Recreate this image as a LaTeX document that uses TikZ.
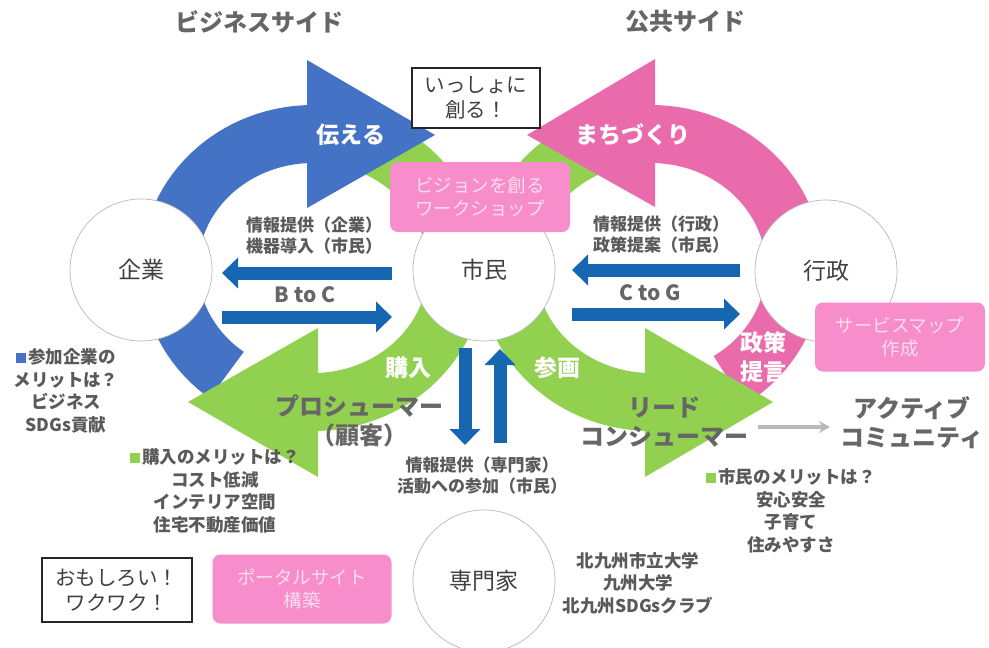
\documentclass[tikz,border=0pt]{standalone}
\usepackage{fontspec}
\setmainfont{Noto Sans CJK JP}
\usetikzlibrary{arrows.meta}
\definecolor{ringblue}{HTML}{4472C4}
\definecolor{ringpink}{HTML}{EA6BAC}
\definecolor{ringgreen}{HTML}{92D050}
\definecolor{boxpink}{HTML}{F78DCA}
\definecolor{boxtext}{HTML}{FCDDEE}
\definecolor{arrowblue}{HTML}{1766B2}
\definecolor{txtgrey}{HTML}{5A5A5A}
\definecolor{biggrey}{HTML}{666666}
\definecolor{txtdark}{HTML}{404040}
\definecolor{titlegrey}{HTML}{666666}
\begin{document}
\begin{tikzpicture}[x=1pt,y=-1pt,
  circ/.style={circle,draw=gray!55,line width=0.7pt,fill=white,minimum size=142pt,inner sep=0pt,text=txtdark,font=\fontsize{23}{27}\selectfont},
  lbl/.style={align=center,text=txtgrey,font=\bfseries\fontsize{17}{21}\selectfont},
  note/.style={align=center,text=txtgrey,font=\bfseries\fontsize{17.5}{22.5}\selectfont},
  wlbl/.style={align=center,text=white,font=\bfseries\fontsize{23}{29}\selectfont},
  bigtxt/.style={align=center,text=biggrey,font=\bfseries\fontsize{24}{29}\selectfont},
  ctxt/.style={align=center,text=biggrey,font=\bfseries\fontsize{21}{25}\selectfont},
  ttl/.style={text=titlegrey,font=\bfseries\fontsize{24}{28}\selectfont},
  pinkbox/.style={rectangle,rounded corners=8pt,fill=boxpink,text=boxtext,align=center,inner sep=0pt,font=\fontsize{18.5}{23}\selectfont},
  blackbox/.style={rectangle,draw=black!85,line width=2pt,fill=white,align=center,inner sep=0pt,text=txtdark,font=\fontsize{20.5}{25}\selectfont},
  bar/.style={draw=arrowblue,line width=13pt,-{Triangle[length=16pt,width=30pt]}},
  greyarrow/.style={draw=gray!55,line width=3.5pt,-{Stealth[length=11pt,width=12pt]}}
]
\fill[white] (0,0) rectangle (989,648);
\useasboundingbox (0,0) rectangle (989,648);

% ---- ring bodies ----
% left ring: centre (313,268)
\fill[ringgreen] plot[domain=-93:70,samples=90] ({313+172*cos(\x)},{268-163*sin(\x)})
  -- plot[domain=70:-93,samples=90] ({313+115*cos(\x)},{268-105*sin(\x)}) -- cycle;
\fill[ringblue] plot[domain=85:233,samples=90] ({313+172*cos(\x)},{268-163*sin(\x)})
  -- plot[domain=233:85,samples=90] ({313+115*cos(\x)},{268-105*sin(\x)}) -- cycle;
% right ring: centre (651,268)
\fill[ringgreen] plot[domain=110:273,samples=90] ({651+172*cos(\x)},{268-163*sin(\x)})
  -- plot[domain=273:110,samples=90] ({651+115*cos(\x)},{268-105*sin(\x)}) -- cycle;
\fill[ringpink] plot[domain=-57:95,samples=90] ({651+172*cos(\x)},{268-163*sin(\x)})
  -- plot[domain=95:-57,samples=90] ({651+115*cos(\x)},{268-105*sin(\x)}) -- cycle;

% ---- arrowheads ----
\fill[ringblue] (307,60) -- (435,135) -- (307,208) -- cycle;
\fill[ringgreen] (318,328) -- (188,402) -- (318,477) -- cycle;
\fill[ringpink] (655,59) -- (527,135) -- (655,207) -- cycle;
\fill[ringgreen] (645,328) -- (773,402) -- (645,477) -- cycle;

% ---- circles ----
\node[circ] (kigyo) at (141,270) {企業};
\node[circ] (shimin) at (484,270) {市民};
\node[circ] (gyosei) at (826,271) {行政};
\node[circ] (senmon) at (484,581) {専門家};

% ---- boxes ----
\node[blackbox,minimum width=128pt,minimum height=60pt] (issho) at (476,98) {いっしょに\\創る！};
\node[pinkbox,minimum width=180pt,minimum height=70pt] (vision) at (480,197) {ビジョンを創る\\ワークショップ};
\node[pinkbox,minimum width=170pt,minimum height=69pt] (svmap) at (900,337) {サービスマップ\\作成};
\node[pinkbox,minimum width=179pt,minimum height=69pt] (portal) at (302,589) {ポータルサイト\\構築};
\node[blackbox,minimum width=150pt,minimum height=64pt] (omoshiro) at (117,590) {おもしろい！\\ワクワク！};

% ---- straight arrows ----
\coordinate (bcA) at (392,273); \coordinate (bcB) at (222,273);
\coordinate (bcC) at (222,317); \coordinate (bcD) at (392,317);
\draw[bar] (bcA) -- (bcB);
\draw[bar] (bcC) -- (bcD);
\coordinate (cgA) at (740,270); \coordinate (cgB) at (572,270);
\coordinate (cgC) at (572,314); \coordinate (cgD) at (740,314);
\draw[bar] (cgA) -- (cgB);
\draw[bar] (cgC) -- (cgD);
\coordinate (vdA) at (465,348); \coordinate (vdB) at (465,445);
\coordinate (vuA) at (500,443); \coordinate (vuB) at (500,349);
\draw[bar] (vdA) -- (vdB);
\draw[bar] (vuA) -- (vuB);

% ---- texts ----
\node[ttl] (t1) at (259,22) {ビジネスサイド};
\node[ttl] (t2) at (685,22) {公共サイド};

\node[wlbl] (w1) at (351,135) {伝える};
\node[wlbl] (w2) at (633,135) {まちづくり};
\node[wlbl] (w3) at (408,368) {購入};
\node[wlbl] (w4) at (557,368) {参画};
\node[wlbl] (w5) at (763,357) {政策\\提言};

\node[lbl] (l1) at (314,236) {情報提供（企業）\\機器導入（市民）};
\node[ctxt] (bc) at (305,295) {B to C};
\node[lbl] (l2) at (661,235) {情報提供（行政）\\政策提案（市民）};
\node[ctxt] (cg) at (650,293) {C to G};
\node[lbl] (l3) at (482,476) {情報提供（専門家）\\活動への参加（市民）};

\node[note] (n1) at (66,391) {\textcolor{ringblue}{\rule[1pt]{10pt}{10pt}}\hspace{2pt}参加企業の\\メリットは？\\ビジネス\\SDGs貢献};
\node[note] (n2) at (215,491) {\textcolor{ringgreen}{\rule[1pt]{10pt}{10pt}}\hspace{2pt}購入のメリットは？\\コスト低減\\インテリア空間\\住宅不動産価値};
\node[note] (n3) at (791,511) {\textcolor{ringgreen}{\rule[1pt]{10pt}{10pt}}\hspace{2pt}市民のメリットは？\\安心安全\\子育て\\住みやすさ};
\node[note] (n4) at (638,583) {北九州市立大学\\九州大学\\北九州SDGsクラブ};

\node[bigtxt] (prosumer) at (359,421) {プロシューマー\\（顧客）};
\node[bigtxt] (lead) at (664,422) {リード\\コンシューマー};
\node[bigtxt] (active) at (912,423) {アクティブ\\コミュニティ};
\coordinate (gaA) at (758,427); \coordinate (gaB) at (830,427);
\draw[greyarrow] (gaA) -- (gaB);
\end{tikzpicture}
\end{document}
